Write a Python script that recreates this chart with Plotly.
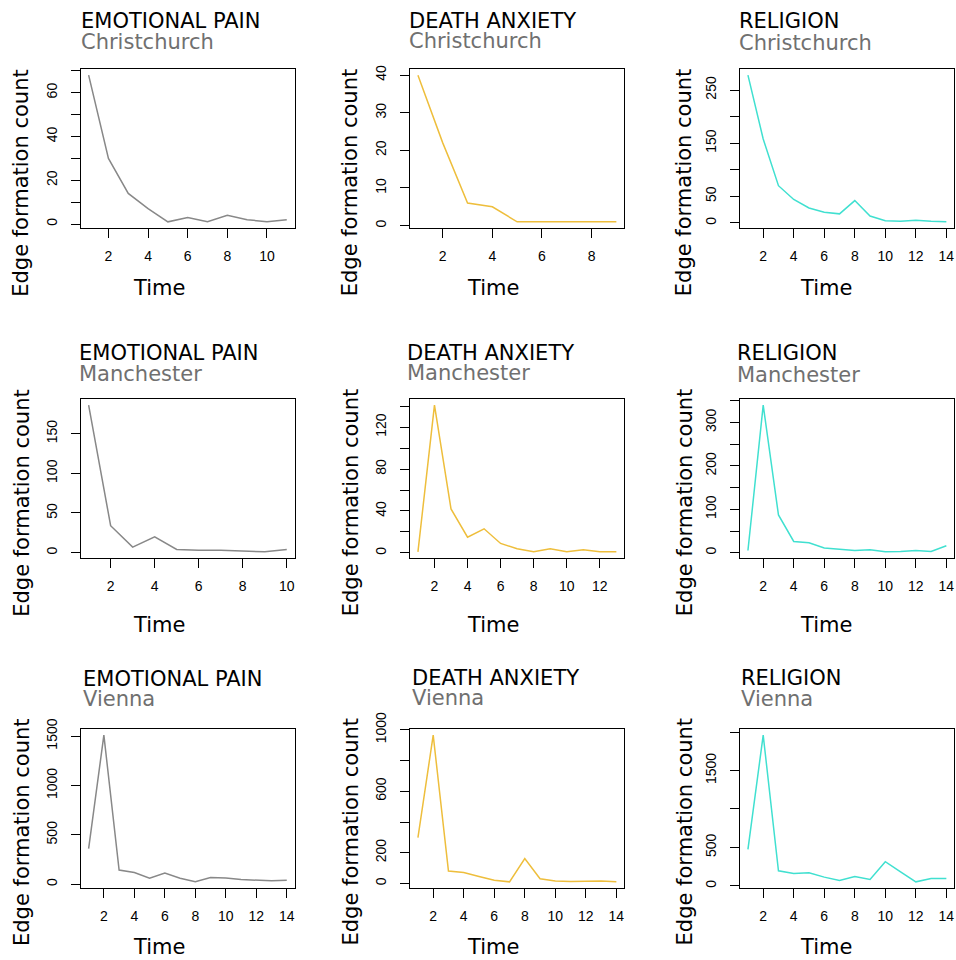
import plotly.graph_objects as go

# ---------------- data ----------------
topics = ["EMOTIONAL PAIN", "DEATH ANXIETY", "RELIGION"]
cities = ["Christchurch", "Manchester", "Vienna"]

ep_christchurch = [68, 30, 14, 7, 1, 3, 1, 4, 2, 1, 2]
da_christchurch = [40, 22, 6, 5, 1, 1, 1, 1, 1]
rel_christchurch = [278, 158, 70, 44, 28, 20, 17, 42, 13, 4, 3, 5, 3, 2]

ep_manchester = [186, 34, 7, 20, 4, 3, 3, 2, 1, 4]
da_manchester = [1, 141, 42, 15, 23, 9, 4, 1, 4, 1, 3, 1, 1]
rel_manchester = [5, 340, 87, 26, 23, 11, 8, 5, 7, 2, 3, 5, 3, 16]

ep_vienna = [360, 1510, 143, 119, 61, 112, 61, 24, 68, 64, 48, 41, 34, 41]
da_vienna = [298, 965, 81, 72, 46, 22, 11, 163, 31, 17, 13, 13, 17, 11]
rel_vienna = [475, 1960, 196, 161, 170, 113, 70, 122, 83, 314, 183, 52, 96, 96]

series = [
    [ep_christchurch, da_christchurch, rel_christchurch],
    [ep_manchester, da_manchester, rel_manchester],
    [ep_vienna, da_vienna, rel_vienna],
]

# y ticks (R draws every tick, drops overlapping labels)
y_tickvals = [
    [[0, 10, 20, 30, 40, 50, 60, 70], [0, 10, 20, 30, 40], [0, 50, 100, 150, 200, 250]],
    [[0, 50, 100, 150], [0, 20, 40, 60, 80, 100, 120, 140], [0, 50, 100, 150, 200, 250, 300, 350]],
    [[0, 500, 1000, 1500], [0, 200, 400, 600, 800, 1000], [0, 500, 1000, 1500, 2000]],
]
y_ticktext = [
    [["0", "", "20", "", "40", "", "60", ""], ["0", "10", "20", "30", "40"], ["0", "50", "", "150", "", "250"]],
    [["0", "50", "100", "150"], ["0", "", "40", "", "80", "", "120", ""], ["0", "", "100", "", "200", "", "300", ""]],
    [["0", "500", "1000", "1500"], ["0", "200", "", "600", "", "1000"], ["0", "500", "", "1500", ""]],
]
x_tickvals = [
    [[2, 4, 6, 8, 10], [2, 4, 6, 8], [2, 4, 6, 8, 10, 12, 14]],
    [[2, 4, 6, 8, 10], [2, 4, 6, 8, 10, 12], [2, 4, 6, 8, 10, 12, 14]],
    [[2, 4, 6, 8, 10, 12, 14], [2, 4, 6, 8, 10, 12, 14], [2, 4, 6, 8, 10, 12, 14]],
]

colors = ["#888888", "#EEBE3C", "#40E0D0"]

# ---------------- layout geometry (pixels) ----------------
W, H = 956, 960
col_box = [(80.7, 294.7), (410.0, 624.3), (740.0, 954.3)]
row_box = [(69.3, 227.7), (399.3, 557.7), (729.3, 887.7)]

title_pos = [  # (left x, title center y, subtitle center y)
    [(78.7, 20.5, 41.7), (406.7, 20.5, 40.8), (737.0, 20.8, 42.5)],
    [(77.3, 352.5, 374.0), (405.0, 353.3, 373.3), (735.0, 353.3, 374.7)],
    [(81.0, 679.3, 699.2), (410.0, 678.0, 697.5), (739.3, 678.0, 699.0)],
]
ylab_x = [21.3, 350.8, 684.7]
ylab_y = [182.5, 502.5, 831.7]
xlab_x = [159.2, 493.0, 825.5]
xlab_y = [288.0, 625.0, 946.7]

TXT_FONT = "DejaVu Sans, Verdana, sans-serif"
TICK_FONT = "Liberation Sans, Arial, Helvetica, sans-serif"


def px_x(v):
    return v / W


def px_y(v):
    return 1 - v / H


def r_range(lo, hi):
    d = hi - lo
    return [lo - 0.04 * d, hi + 0.04 * d]


fig = go.Figure()
annotations = []
layout = {}

k = 0
for r in range(3):
    for c in range(3):
        k += 1
        vals = series[r][c]
        xs = list(range(1, len(vals) + 1))
        xa = "x" if k == 1 else f"x{k}"
        ya = "y" if k == 1 else f"y{k}"
        fig.add_trace(go.Scatter(
            x=xs, y=vals, mode="lines",
            line=dict(color=colors[c], width=1.5),
            xaxis=xa, yaxis=ya, showlegend=False, hoverinfo="x+y",
        ))
        xname = "xaxis" if k == 1 else f"xaxis{k}"
        yname = "yaxis" if k == 1 else f"yaxis{k}"
        common = dict(
            showline=True, mirror=True, linecolor="black", linewidth=1,
            showgrid=False, zeroline=False, automargin=False,
            ticks="outside", ticklen=9, tickwidth=1, tickcolor="black",
            tickfont=dict(family=TICK_FONT, size=14, color="black"),
            tickmode="array",
        )
        layout[xname] = dict(
            common,
            domain=[px_x(col_box[c][0]), px_x(col_box[c][1])],
            anchor=ya,
            range=r_range(min(xs), max(xs)),
            tickvals=x_tickvals[r][c],
            ticktext=[str(v) for v in x_tickvals[r][c]],
            ticklabelstandoff=6,
        )
        layout[yname] = dict(
            common,
            domain=[px_y(row_box[r][1]), px_y(row_box[r][0])],
            anchor=xa,
            range=r_range(min(vals), max(vals)),
            tickvals=y_tickvals[r][c],
            ticktext=y_ticktext[r][c],
            tickangle=-90,
            ticklabelstandoff=8,
        )
        tx, ty, sy = title_pos[r][c]
        annotations.append(dict(
            text=topics[c], x=px_x(tx), y=px_y(ty), xref="paper", yref="paper",
            xanchor="left", yanchor="middle", showarrow=False,
            font=dict(family=TXT_FONT, size=21, color="black"),
        ))
        annotations.append(dict(
            text=cities[r], x=px_x(tx), y=px_y(sy), xref="paper", yref="paper",
            xanchor="left", yanchor="middle", showarrow=False,
            font=dict(family=TXT_FONT, size=21, color="#707070"),
        ))
        annotations.append(dict(
            text="Edge formation count", x=px_x(ylab_x[c]), y=px_y(ylab_y[r]),
            xref="paper", yref="paper", xanchor="center", yanchor="middle",
            textangle=-90, showarrow=False,
            font=dict(family=TXT_FONT, size=21, color="black"),
        ))
        annotations.append(dict(
            text="Time", x=px_x(xlab_x[c]), y=px_y(xlab_y[r]),
            xref="paper", yref="paper", xanchor="center", yanchor="middle",
            showarrow=False,
            font=dict(family=TXT_FONT, size=21, color="black"),
        ))

fig.update_layout(
    width=W, height=H,
    margin=dict(l=0, r=0, t=0, b=0, pad=0, autoexpand=False),
    paper_bgcolor="white", plot_bgcolor="white",
    annotations=annotations,
    **layout,
)

fig.write_html(
    "out.html",
    config={"displayModeBar": False},
    post_script="document.body.style.margin='0';document.body.style.padding='0';"
                "document.body.style.overflow='hidden';"
                "document.documentElement.style.overflow='hidden';",
)
